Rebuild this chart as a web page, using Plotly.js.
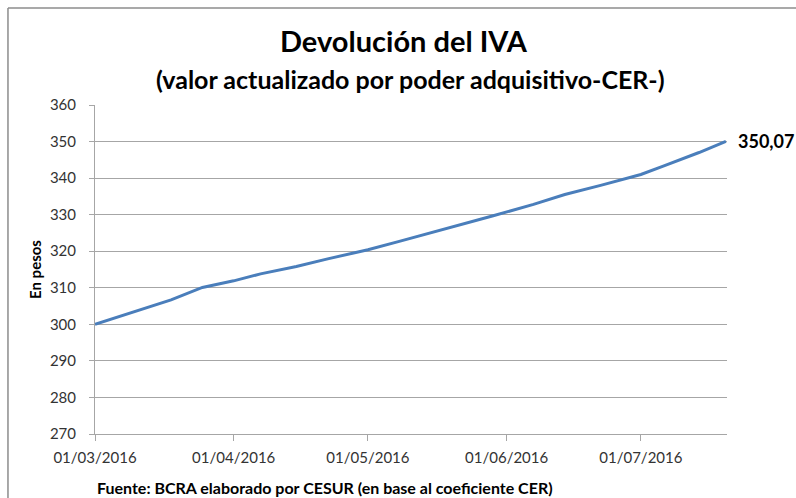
<!DOCTYPE html>
<html>
<head>
<meta charset="utf-8">
<script src="https://cdn.plot.ly/plotly-3.0.1.min.js"></script>
<style>html,body{margin:0;padding:0;background:#fff;}#chart{width:796px;height:498px;}</style>
</head>
<body>
<div id="chart"></div>
<script>
// Data
const fechas = ["2016-03-01","2016-03-06","2016-03-11","2016-03-18","2016-03-25","2016-04-01","2016-04-07","2016-04-15","2016-04-22","2016-05-01","2016-05-08","2016-05-15","2016-05-22","2016-05-29","2016-06-07","2016-06-14","2016-06-22","2016-06-27","2016-07-01","2016-07-06","2016-07-14","2016-07-20"];
const valores = [300.0,302.0,303.9,306.7,310.1,311.9,313.8,315.8,317.9,320.4,322.7,325.0,327.3,329.7,332.8,335.5,338.0,339.6,341.0,343.3,347.0,350.07];
const tickFechas = ["2016-03-01","2016-04-01","2016-05-01","2016-06-01","2016-07-01"];
const tickTextos = ["01/03/2016","01/04/2016","01/05/2016","01/06/2016","01/07/2016"];
const titulo = "Devolución del IVA";
const subtitulo = "(valor actualizado por poder adquisitivo-CER-)";
const tituloY = "En pesos";
const fuente = "Fuente: BCRA elaborado por CESUR (en base al coeficiente CER)";
const etiquetaFinal = "350,07";

const FONT = "Lato, 'Open Sans', sans-serif";
const last = valores.length - 1;

const trace = {
  x: fechas, y: valores, type: "scatter", mode: "lines",
  line: {color: "#4A7EBB", width: 3}, hoverinfo: "none"
};

const layout = {
  width: 796, height: 498,
  margin: {l: 95, r: 69, t: 105, b: 64},
  paper_bgcolor: "#fff", plot_bgcolor: "#fff",
  showlegend: false,
  font: {family: FONT, color: "#333", size: 15},
  xaxis: {
    type: "date", range: ["2016-03-01", "2016-07-20 06:00"],
    tickvals: tickFechas, ticktext: tickTextos,
    showgrid: false, zeroline: false,
    showline: true, linecolor: "#a6a6a6", linewidth: 1,
    ticks: "outside", ticklen: 6, tickcolor: "#a6a6a6",
    ticklabelstandoff: 4,
    tickfont: {family: FONT, size: 15, color: "#333"}
  },
  yaxis: {
    range: [270, 360], dtick: 10, tick0: 270,
    showgrid: true, gridcolor: "#a6a6a6", gridwidth: 1,
    zeroline: false,
    showline: true, linecolor: "#a6a6a6", linewidth: 1,
    ticks: "outside", ticklen: 5, tickcolor: "#a6a6a6",
    ticklabelstandoff: 10,
    tickfont: {family: FONT, size: 15, color: "#333"},
    title: {text: "<b>" + tituloY + "</b>", font: {family: FONT, size: 15, color: "#000"}, standoff: 4}
  },
  shapes: [
    {type: "line", xref: "paper", yref: "paper", x0: -0.1377, x1: 1.3, y0: 1.2948, y1: 1.2948, line: {color: "#8c8c8c", width: 1.5}},
    {type: "line", xref: "paper", yref: "paper", x0: -0.1377, x1: -0.1377, y0: 1.2948, y1: -0.3, line: {color: "#8c8c8c", width: 1.5}}
  ],
  annotations: [
    {text: "<b>" + titulo + "</b>", xref: "paper", yref: "paper", x: (404 - 95) / 632, y: (434 - 41) / 329, xanchor: "center", yanchor: "middle", showarrow: false, font: {family: FONT, size: 29, color: "#000"}},
    {text: "<b>" + subtitulo + "</b>", xref: "paper", yref: "paper", x: (410 - 95) / 632, y: (434 - 79) / 329, xanchor: "center", yanchor: "middle", showarrow: false, font: {family: FONT, size: 25, color: "#000"}},
    {text: "<b>" + etiquetaFinal + "</b>", x: fechas[last], y: valores[last], xref: "x", yref: "y", xanchor: "left", yanchor: "middle", xshift: 10, showarrow: false, font: {family: FONT, size: 18, color: "#000"}},
    {text: "<b>" + fuente + "</b>", xref: "paper", yref: "paper", x: 0, y: (434 - 487) / 329, xanchor: "left", yanchor: "middle", showarrow: false, font: {family: FONT, size: 16, color: "#000"}}
  ]
};

Plotly.newPlot("chart", [trace], layout, {staticPlot: true, displayModeBar: false});
</script>
</body>
</html>
